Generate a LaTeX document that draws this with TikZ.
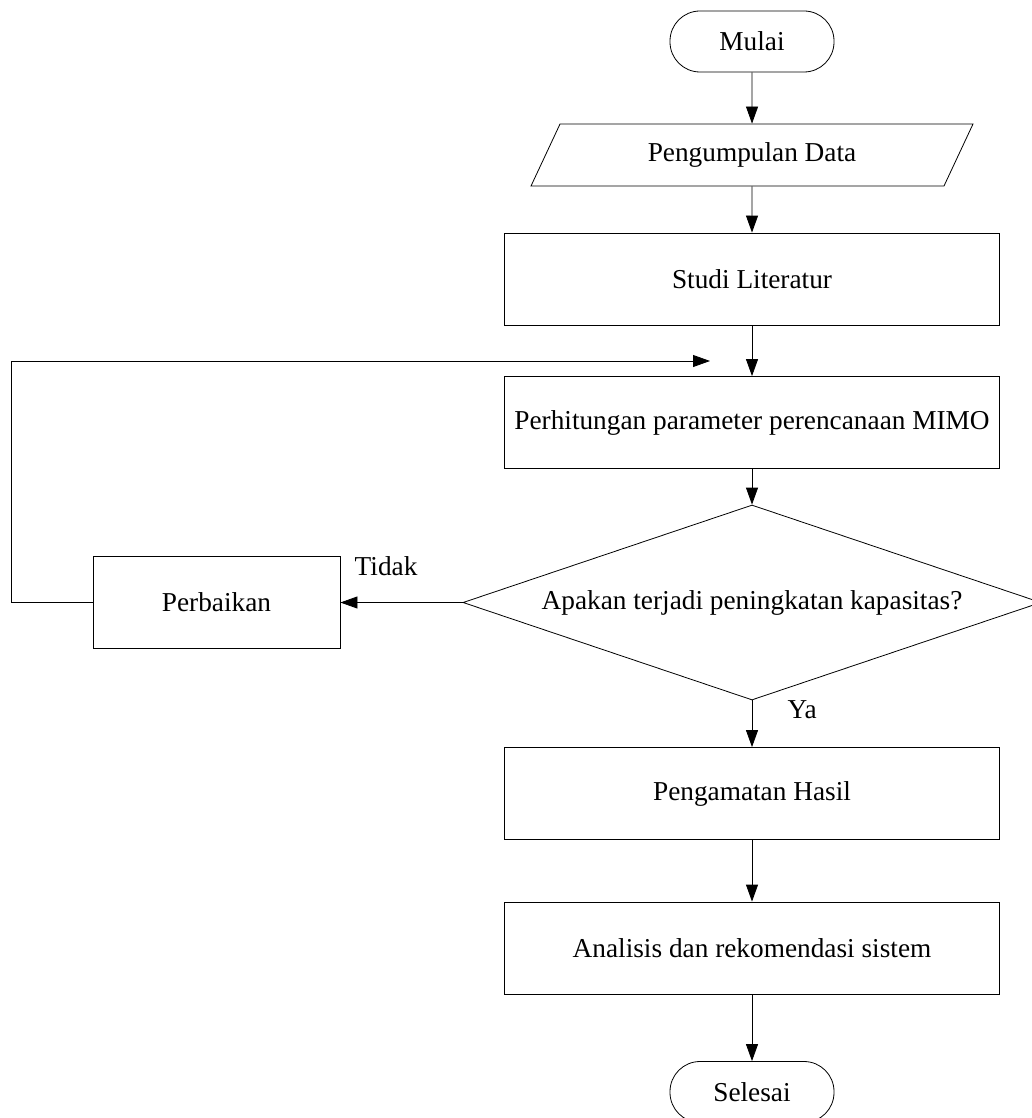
\documentclass[tikz,border=0pt]{standalone}
\usepackage{fontspec}
\setmainfont{Liberation Serif}
\usetikzlibrary{arrows.meta, shapes.geometric}

\begin{document}
\begin{tikzpicture}[x=1pt, y=-1pt, font=\fontsize{27.3}{32}\selectfont]

\tikzset{terminal/.style = {shape=rectangle, draw, rounded corners=30pt, minimum width=164pt, minimum height=61pt, line width=0.8pt}}
\tikzset{proses/.style = {shape=rectangle, draw, minimum width=495pt, minimum height=92pt, line width=0.8pt}}
\tikzset{masukan/.style = {shape=trapezium, draw, trapezium left angle=62.7, trapezium right angle=117.3, trapezium stretches=true, minimum width=443pt, minimum height=62pt, line width=0.8pt}}
\tikzset{keputusan/.style = {shape=diamond, draw, aspect=2.96, inner sep=0pt, minimum width=578pt, minimum height=195pt, line width=0.8pt}}
\tikzset{edge/.style = {-{Triangle[length=17pt, width=12pt]}, line width=0.8pt}}

\clip (0,0) rectangle (1032,1118);
%verticies
\node[terminal] (mulai) at (752,41.5) {Mulai};
\node[masukan] (data) at (752,155) {Pengumpulan Data};
\node[proses] (studi) at (752,279) {Studi Literatur};
\node[proses] (hitung) at (752,422.5) {Perhitungan parameter perencanaan MIMO};
\node[keputusan] (cek) at (752,602.5) {Apakan terjadi peningkatan kapasitas?};
\node[proses, minimum width=247pt] (perbaikan) at (216.5,602.5) {Perbaikan};
\node[proses] (amati) at (752,793.5) {Pengamatan Hasil};
\node[proses] (analisis) at (752,948) {Analisis dan rekomendasi sistem};
\node[terminal] (selesai) at (752,1092) {Selesai};
\coordinate (kiri) at (11,361);
\coordinate (masuk) at (710,361);
%edges
\draw [edge] (mulai) -- (data);
\draw [edge] (data) -- (studi);
\draw [edge] (studi) -- (hitung);
\draw [edge] (hitung) -- (cek);
\draw [edge] (cek.west) -- (perbaikan.east) node [pos=0.626, above=23pt] {Tidak};
\draw [edge] (perbaikan.west) -| (kiri) -- (masuk);
\draw [edge] (cek.south) -- (amati.north) node [pos=0.2, right=32pt] {Ya};
\draw [edge] (amati) -- (analisis);
\draw [edge] (analisis) -- (selesai);

\end{tikzpicture}
\end{document}
